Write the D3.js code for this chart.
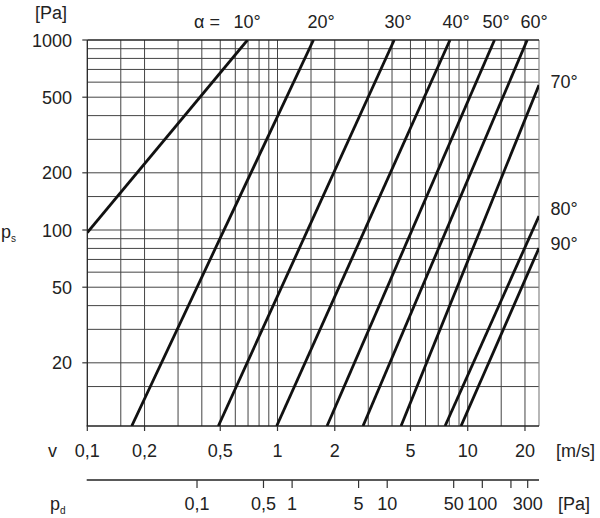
<!DOCTYPE html>
<html><head><meta charset="utf-8">
<script src="https://cdn.jsdelivr.net/npm/d3@7"></script>
<style>body{margin:0;background:#fff} svg{display:block}</style>
</head><body>
<svg id="c" width="600" height="518"></svg>
<script>
// ---- data ----
const angleLabels = ["10°","20°","30°","40°","50°","60°","70°","80°","90°"];
const startV  = [0.1,  0.1712, 0.4885, 0.990, 1.821, 2.815, 4.46, 7.60, 9.22];
const startPs = [97,   9.3,    9.3,    9.3,   9.3,   9.3,   9.3,  9.3,  9.3];
const endV    = [0.6955, 1.546, 4.108, 8.07, 13.83, 20.55, 23.7, 23.7, 23.7];
const endPs   = [1000, 1000, 1000, 1000, 1000, 1000, 580, 118.5, 80.4];

const vTicks = [0.1, 0.2, 0.5, 1, 2, 5, 10, 20];
const vTickLabels = ["0,1","0,2","0,5","1","2","5","10","20"];
const vGrid = [0.15,0.2,0.3,0.4,0.5,0.6,0.7,0.8,0.9,1,1.5,2,3,4,5,6,7,8,9,10,15,20];
const psTicks = [1000, 500, 200, 100, 50, 20];
const psTickLabels = ["1000","500","200","100","50","20"];
const psGrid = [15,20,30,40,50,60,70,80,90,100,150,200,300,400,500,600,700,800,900];
const pdTicks = [0.1, 0.5, 1, 5, 10, 50, 100, 200, 300];
const pdTickLabels = ["0,1","0,5","1","5","10","50","100","","300"];

// ---- layout ----
const L = 87.3, R = 539, T = 40, B = 426, PD_Y = 480;
const vDomain = [0.1, 23.7], psDomain = [9.3, 1000];
const pdDomain = [0.00702, 394.5];

const svg = d3.select("#c");
const x = d3.scaleLog().domain(vDomain).range([L, R]);
const y = d3.scaleLog().domain(psDomain).range([B, T]);
const xpd = d3.scaleLog().domain(pdDomain).range([L, R]);

const font = "'Liberation Sans', Arial, Helvetica, sans-serif";
const txt = "#222";
const FS = 18;

// grid
const grid = svg.append("g").attr("stroke", "#444").attr("stroke-width", 1);
grid.selectAll(".vg").data(vGrid).join("line")
  .attr("x1", d => x(d)).attr("x2", d => x(d)).attr("y1", T).attr("y2", B);
grid.selectAll(".hg").data(psGrid).join("line")
  .attr("x1", L).attr("x2", R).attr("y1", d => y(d)).attr("y2", d => y(d));
// frame
svg.append("line").attr("x1", R).attr("x2", R).attr("y1", T).attr("y2", B).attr("stroke", "#888").attr("stroke-width", 1.2);
svg.append("line").attr("x1", L).attr("x2", R).attr("y1", T).attr("y2", T).attr("stroke", "#222").attr("stroke-width", 1.3);
svg.append("line").attr("x1", L).attr("x2", L).attr("y1", T).attr("y2", B).attr("stroke", "#222").attr("stroke-width", 1.3);
svg.append("line").attr("x1", L - 0.6).attr("x2", R).attr("y1", B).attr("y2", B).attr("stroke", "#222").attr("stroke-width", 1.3);

// ticks
svg.append("g").selectAll("line").data(vTicks).join("line")
  .attr("x1", d => x(d)).attr("x2", d => x(d)).attr("y1", B).attr("y2", B + 5)
  .attr("stroke", "#333").attr("stroke-width", 1.2);
svg.append("g").selectAll("line").data(psTicks).join("line")
  .attr("x1", L - 5).attr("x2", L).attr("y1", d => y(d)).attr("y2", d => y(d))
  .attr("stroke", "#333").attr("stroke-width", 1.2);

// tick labels
svg.append("g").selectAll("text").data(vTicks).join("text")
  .attr("x", d => x(d)).attr("y", 457).attr("text-anchor", "middle")
  .attr("font-family", font).attr("font-size", FS).attr("fill", txt)
  .text((d, i) => vTickLabels[i]);
svg.append("g").selectAll("text").data(psTicks).join("text")
  .attr("x", 72).attr("y", d => y(d) + 6.5).attr("text-anchor", "end")
  .attr("font-family", font).attr("font-size", FS).attr("fill", txt)
  .text((d, i) => psTickLabels[i]);

// pd axis
svg.append("line").attr("x1", L - 0.6).attr("x2", R).attr("y1", PD_Y).attr("y2", PD_Y)
  .attr("stroke", "#222").attr("stroke-width", 1.3);
svg.append("g").selectAll("line").data(pdTicks).join("line")
  .attr("x1", d => xpd(d)).attr("x2", d => xpd(d)).attr("y1", PD_Y).attr("y2", PD_Y + 8)
  .attr("stroke", "#333").attr("stroke-width", 1.2);
svg.append("g").selectAll("text").data(pdTicks).join("text")
  .attr("x", d => xpd(d)).attr("y", 510).attr("text-anchor", "middle")
  .attr("font-family", font).attr("font-size", FS).attr("fill", txt)
  .text((d, i) => pdTickLabels[i]);

// curves
svg.append("defs").append("clipPath").attr("id", "clip")
  .append("rect").attr("x", L).attr("y", T).attr("width", R - L).attr("height", B - T);
const lineGen = d3.line().x(d => x(d[0])).y(d => y(d[1]));
svg.append("g").attr("clip-path", "url(#clip)").selectAll("path")
  .data(angleLabels.map((a, i) => [[startV[i], startPs[i]], [endV[i], endPs[i]]]))
  .join("path").attr("d", lineGen)
  .attr("fill", "none").attr("stroke", "#111").attr("stroke-width", 2.8);

// angle labels
const labelX = [247, 321, 398, 456, 496, 534, 564, 564, 564];
const labelY = [28, 28, 28, 28, 28, 28, 88, 215, 250];
svg.append("g").selectAll("text").data(angleLabels).join("text")
  .attr("x", (d, i) => labelX[i]).attr("y", (d, i) => labelY[i]).attr("text-anchor", "middle")
  .attr("font-family", font).attr("font-size", FS).attr("fill", txt)
  .text(d => d);
svg.append("text").attr("x", 220).attr("y", 28).attr("text-anchor", "end")
  .attr("font-family", font).attr("font-size", FS).attr("fill", txt).text("α =");

// axis titles
const t = (xx, yy, s, anchor) => svg.append("text").attr("x", xx).attr("y", yy)
  .attr("text-anchor", anchor || "start").attr("font-family", font).attr("font-size", FS)
  .attr("fill", txt).text(s);
t(35, 19, "[Pa]");
t(556, 457, "[m/s]");
t(558, 510, "[Pa]");
t(48, 457, "v");
const ps = t(1, 238, "p");
ps.append("tspan").attr("font-size", 10).attr("dy", 4).text("s");
const pd = t(50, 510, "p");
pd.append("tspan").attr("font-size", 10).attr("dy", 4).text("d");
</script>
</body></html>
